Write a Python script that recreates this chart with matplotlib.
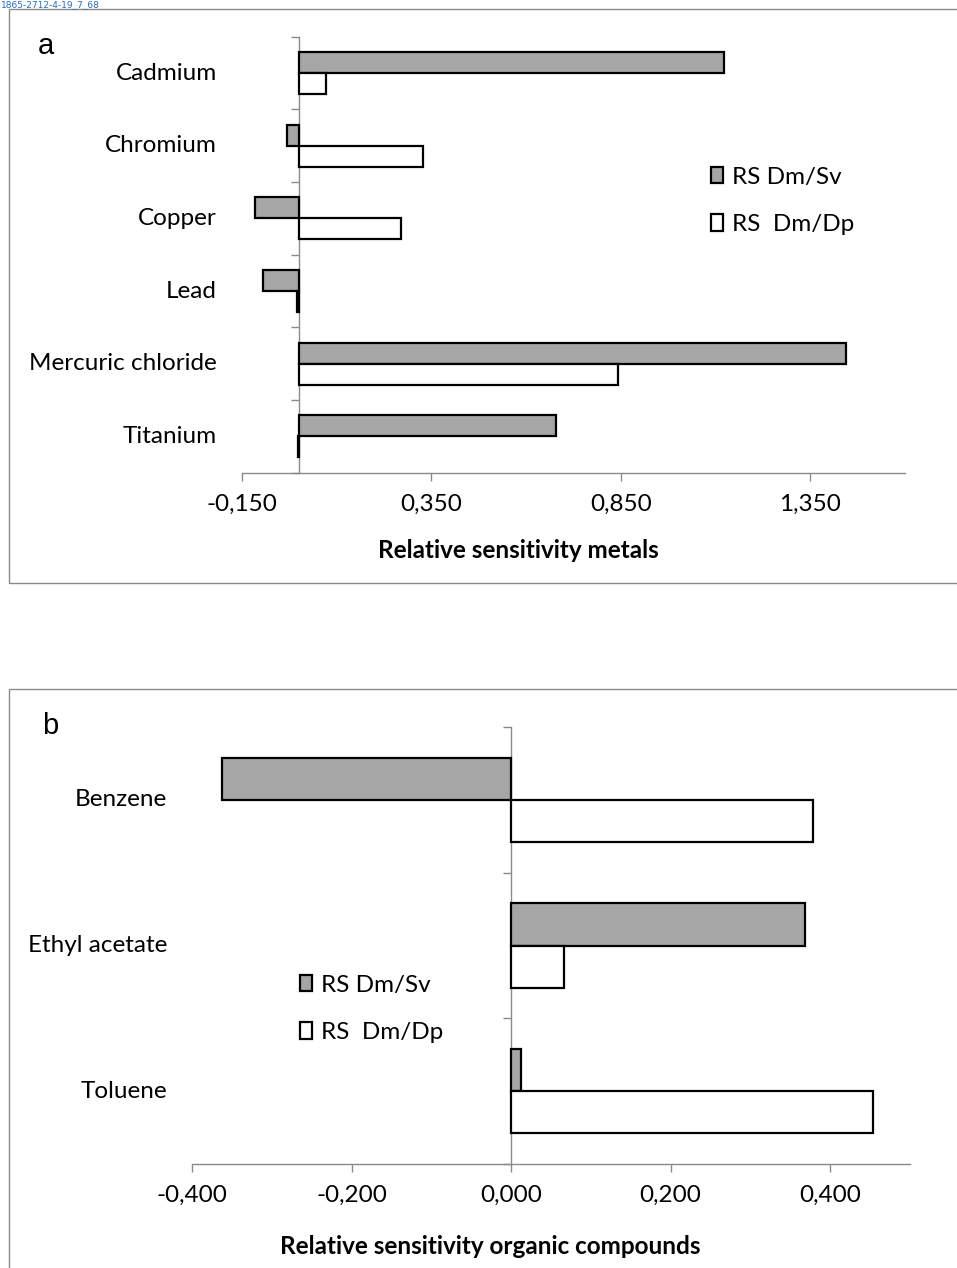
import matplotlib
matplotlib.use("Agg")
import matplotlib.pyplot as plt
from matplotlib.patches import Rectangle, Patch
import numpy as np

# ---------------- data ----------------
metals = ["Cadmium", "Chromium", "Copper", "Lead", "Mercuric chloride", "Titanium"]
metals_sv = [1.121, -0.032, -0.117, -0.094, 1.443, 0.678]
metals_dp = [0.072, 0.328, 0.270, -0.004, 0.842, -0.003]
metals_ticks = [-0.15, 0.35, 0.85, 1.35]
metals_ticklabels = ["-0,150", "0,350", "0,850", "1,350"]

organics = ["Benzene", "Ethyl acetate", "Toluene"]
organics_sv = [-0.362, 0.368, 0.012]
organics_dp = [0.378, 0.066, 0.454]
organics_ticks = [-0.4, -0.2, 0.0, 0.2, 0.4]
organics_ticklabels = ["-0,400", "-0,200", "0,000", "0,200", "0,400"]

series_names = ["RS Dm/Sv", "RS  Dm/Dp"]
title_a = "Relative sensitivity metals"
title_b = "Relative sensitivity organic compounds"

# ---------------- style ----------------
W, H = 957, 1268
DPI = 100
FONT = ["Lato", "DejaVu Sans"]
plt.rcParams["font.family"] = FONT
GRAY = "#a6a6a6"
AXC = "#8a8a8a"
FS = 17.5

fig = plt.figure(figsize=(W / DPI, H / DPI), dpi=DPI)


def fx(px):
    return px / W


def fy(py):
    return 1 - py / H


# outer chart frames
fig.add_artist(Rectangle((fx(9), fy(583)), fx(960 - 9), (583 - 9) / H,
                         transform=fig.transFigure, fill=False,
                         edgecolor=AXC, linewidth=1.0))
fig.add_artist(Rectangle((fx(9), fy(1280)), fx(960 - 9), (1280 - 689) / H,
                         transform=fig.transFigure, fill=False,
                         edgecolor=AXC, linewidth=1.0))

fig.text(fx(1), fy(0), "1865-2712-4-19_7_68", color="#2a6ebb",
         fontsize=6.5, family="DejaVu Sans", ha="left", va="top")


def panel(rect, cats, sv, dp, xlim, ticks, ticklabels, title, title_xy,
          letter, letter_xy, leg_xy):
    left, right, top, bottom = rect
    ax = fig.add_axes([fx(left), fy(bottom), (right - left) / W, (bottom - top) / H])
    n = len(cats)
    y = np.arange(n)
    h = 0.29
    ax.barh(y - h / 2, sv, height=h, color=GRAY, edgecolor="black",
            linewidth=1.6, label=series_names[0], zorder=3)
    ax.barh(y + h / 2, dp, height=h, color="white", edgecolor="black",
            linewidth=1.6, label=series_names[1], zorder=3)
    ax.set_ylim(n - 0.5, -0.5)
    ax.set_xlim(*xlim)
    for s in ["top", "right"]:
        ax.spines[s].set_visible(False)
    ax.spines["left"].set_position(("data", 0))
    ax.spines["left"].set_color(AXC)
    ax.spines["bottom"].set_color(AXC)
    ax.spines["left"].set_linewidth(1.0)
    ax.spines["bottom"].set_linewidth(1.0)
    ax.spines["left"].set_zorder(2)
    ax.set_yticks(np.arange(n + 1) - 0.5)
    ax.set_yticklabels([])
    ax.tick_params(axis="y", direction="out", length=6, width=1.0, color=AXC)
    ax.set_xticks(ticks)
    ax.set_xticklabels(ticklabels, fontsize=FS)
    ax.tick_params(axis="x", direction="out", length=6, width=1.0, color=AXC, pad=9)
    for i, c in enumerate(cats):
        ax.text(-25 / (right - left), i, c, transform=ax.get_yaxis_transform(),
                ha="right", va="center", fontsize=FS)
    ax.set_xlabel(title, fontsize=FS, fontweight="bold")
    ax.xaxis.set_label_coords((title_xy[0] - left) / (right - left),
                              (bottom - title_xy[1]) / (bottom - top))
    ax.xaxis.label.set_va("center")
    fig.text(fx(letter_xy[0]), fy(letter_xy[1]), letter, fontsize=21,
             family=["Liberation Sans", "DejaVu Sans"], ha="center", va="center")
    handles = [Patch(facecolor=GRAY, edgecolor="black", linewidth=1.6),
               Patch(facecolor="white", edgecolor="black", linewidth=1.6)]
    ax.legend(handles, series_names, loc="center left",
              bbox_to_anchor=(fx(leg_xy[0]), fy(leg_xy[1])),
              bbox_transform=fig.transFigure, frameon=False, fontsize=FS,
              handlelength=0.5, handleheight=0.65, handletextpad=0.35,
              labelspacing=1.08, borderpad=0, borderaxespad=0)
    return ax


panel((242, 905, 36.7, 472.7), metals, metals_sv, metals_dp, (-0.15, 1.6),
      metals_ticks, metals_ticklabels, title_a, (518, 550), "a", (46, 46),
      (711, 201))
panel((192, 910, 727, 1164), organics, organics_sv, organics_dp, (-0.4, 0.5),
      organics_ticks, organics_ticklabels, title_b, (490, 1246), "b", (50, 726),
      (300, 1009))

fig.savefig("out.png", dpi=DPI)
